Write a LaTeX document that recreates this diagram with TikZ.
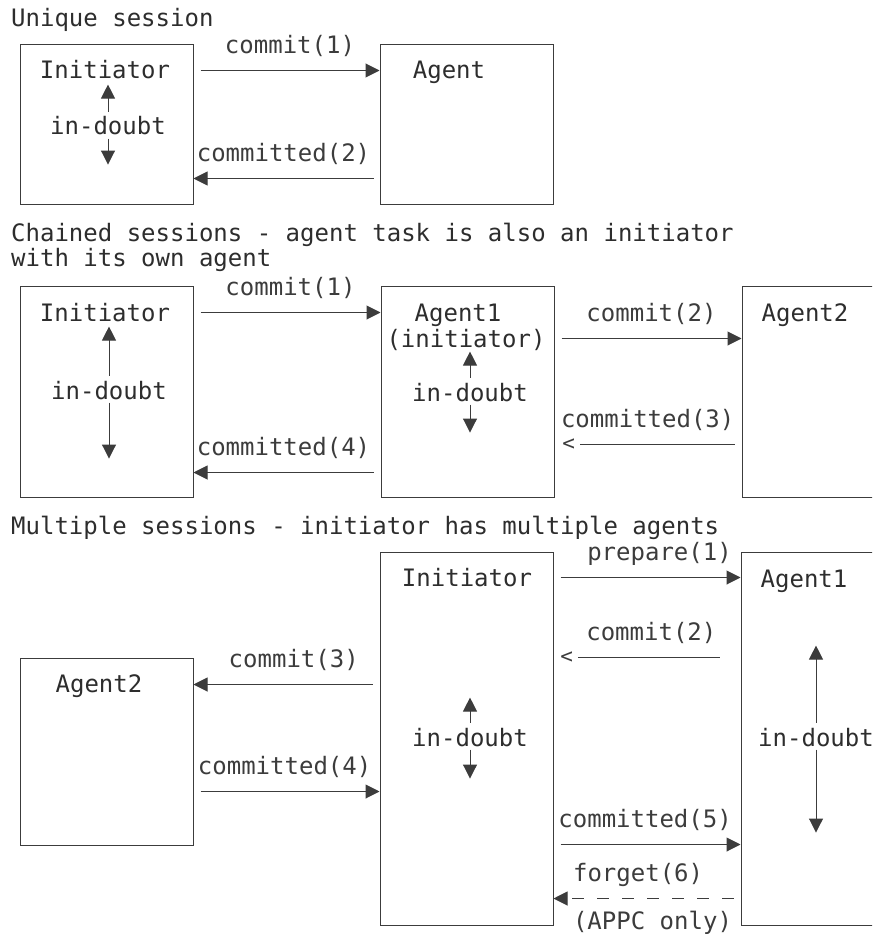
\documentclass[tikz,border=0pt]{standalone}
\usepackage{fontspec}
\usepackage{xcolor}
\usepackage{tikz}
\usetikzlibrary{arrows.meta, positioning, calc}
\newfontfamily\diagfont{DejaVu Sans Mono}
\definecolor{ink}{RGB}{45,45,45}
\definecolor{rule}{RGB}{60,60,60}

\begin{document}
\begin{tikzpicture}[
  x=1pt, y=-1pt,
  font=\diagfont\fontsize{24}{25}\selectfont,
  text=ink,
  box/.style={rectangle, draw=rule, line width=1pt, minimum width=173pt, inner sep=0pt},
  txt/.style={anchor=base, inner sep=0pt},
  flow/.style={-{Triangle[length=14pt, width=14pt]}, line width=1pt, rule},
  bare/.style={-, line width=1pt, rule},
  lbl/.style={anchor=base, inner sep=0pt, yshift=17pt},
  lblb/.style={anchor=base, inner sep=0pt, yshift=-31pt},
  lt/.style={anchor=east, inner sep=0pt, font=\diagfont\fontsize{21}{22}\selectfont}
]
\clip (0,0) rectangle (872,936);

% unique session
\node[txt, anchor=base west] (t1) at (11,27) {Unique session};
\node[box, minimum height=159pt] (ini1) at (106.5,124.5) {};
\node[box, minimum height=159pt, right=186pt of ini1] (ag1) {};
\node[txt] (ini1l) at (105,79) {Initiator};
\node[txt] (ag1l) at (449,79) {Agent};
\node[txt] (ini1d) at (108,135) {in-doubt};
\draw[flow] ([yshift=5pt]ini1d.north) -- ++(0,-27);
\draw[flow] ([yshift=-3pt]ini1d.south) -- ++(0,26);
\draw[flow] ($(ini1.north east)+(7,26)$) -- node[lbl] (c11) {commit(1)} ($(ag1.north west)+(0,26)$);
\draw[flow] ($(ag1.north west)+(-6,134)$) -- node[lbl] (c12) {committed(2)} ($(ini1.north east)+(0,134)$);

% chained sessions
\node[anchor=north west, inner sep=0pt, align=left] (t2) at (11,223)
  {Chained sessions - agent task is also an initiator\\with its own agent};
\node[box, minimum height=211pt] (ini2) at (106.5,391.5) {};
\node[box, minimum height=211pt, right=187pt of ini2] (agt1) {};
\node[box, minimum height=211pt, right=187pt of agt1] (agt2) {};
\node[txt] (ini2l) at (105,321) {Initiator};
\node[txt] (ini2d) at (109,399) {in-doubt};
\draw[flow] ([yshift=5pt]ini2d.north) -- ++(0,-49);
\draw[flow] ([yshift=-3pt]ini2d.south) -- ++(0,56);
\node[txt] (agt1l) at (458,321) {Agent1};
\node[txt] (agt1i) at (466,347) {(initiator)};
\node[txt] (agt1d) at (470,401) {in-doubt};
\draw[flow] ([yshift=5pt]agt1d.north) -- ++(0,-26);
\draw[flow] ([yshift=-3pt]agt1d.south) -- ++(0,28);
\node[txt] (agt2l) at (805,321) {Agent2};
\draw[flow] ($(ini2.north east)+(7,27)$) -- node[lbl] (c21) {commit(1)} ($(agt1.north west)+(0,27)$);
\draw[flow] ($(agt1.north east)+(7,53)$) -- node[lbl] (c22) {commit(2)} ($(agt2.north west)+(0,53)$);
\draw[bare] ($(agt2.north west)+(-7,159)$) -- node[lbl, pos=0.56] (c23) {committed(3)}
  ($(agt1.north east)+(25,159)$) node[lt, left=4pt] (lt23) {<};
\draw[flow] ($(agt1.north west)+(-7,187)$) -- node[lbl] (c24) {committed(4)} ($(ini2.north east)+(0,187)$);

% multiple sessions
\node[txt, anchor=base west] (t3) at (11,534) {Multiple sessions - initiator has multiple agents};
\node[box, minimum height=373pt] (ini3) at (466.5,738.5) {};
\node[box, minimum height=373pt, right=187pt of ini3] (agt31) {};
\node[box, minimum height=187pt] (agt32) at (106.5,751.5) {};
\node[txt] (ini3l) at (467,586) {Initiator};
\node[txt] (ini3d) at (470,746) {in-doubt};
\draw[flow] ([yshift=5pt]ini3d.north) -- ++(0,-25);
\draw[flow] ([yshift=-3pt]ini3d.south) -- ++(0,29);
\node[txt] (agt31l) at (804,587) {Agent1};
\node[txt] (agt31d) at (816,746) {in-doubt};
\draw[flow] ([yshift=5pt]agt31d.north) -- ++(0,-77);
\draw[flow] ([yshift=-3pt]agt31d.south) -- ++(0,83);
\node[txt] (agt32l) at (99,692) {Agent2};
\draw[flow] ($(ini3.north east)+(7,26)$) -- node[lbl, pos=0.55] (c31) {prepare(1)} ($(agt31.north west)+(0,26)$);
\draw[bare] ($(agt31.north west)+(-21,106)$) -- node[lbl, pos=0.48] (c32) {commit(2)}
  ($(ini3.north east)+(24,106)$) node[lt, left=4pt] (lt32) {<};
\draw[flow] ($(ini3.north west)+(-7,133)$) -- node[lbl, pos=0.44] (c33) {commit(3)} ($(agt32.north east)+(0,27)$);
\draw[flow] ($(agt32.north east)+(7,134)$) -- node[lbl, pos=0.47] (c34) {committed(4)} ($(ini3.north west)+(0,240)$);
\draw[flow] ($(ini3.north east)+(7,293)$) -- node[lbl, pos=0.47] (c35) {committed(5)} ($(agt31.north west)+(0,293)$);
\draw[flow, dash pattern=on 12pt off 13pt] ($(agt31.south west)+(-7,-27)$)
  -- node[lbl, pos=0.53] (c36) {forget(6)} node[lblb, pos=0.45] (c36b) {(APPC only)}
  ($(ini3.south east)+(0,-27)$);

\end{tikzpicture}
\end{document}
